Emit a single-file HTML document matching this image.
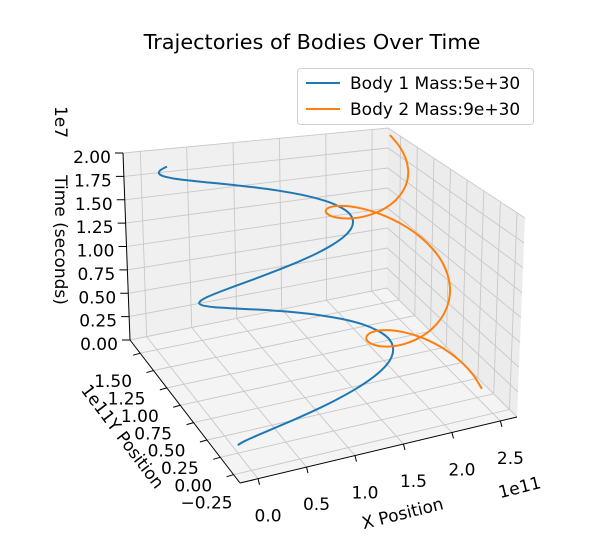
<!DOCTYPE html>
<html><head><meta charset="utf-8"><style>
html,body{margin:0;padding:0;background:#fff;}
svg{display:block;font-family:"DejaVu Sans","Liberation Sans",sans-serif;}
</style></head><body>
<svg id="chart" width="610" height="552" viewBox="0 0 610 552" xmlns="http://www.w3.org/2000/svg">
<rect width="610" height="552" fill="#fff"/>
<text x="312" y="49" text-anchor="middle" font-size="20.8" fill="#000">Trajectories of Bodies Over Time</text>
<g id="panes"></g>
<g id="grid"></g>
<g id="axes"></g>
<g id="series"></g>
<text transform="translate(404,519) rotate(-14)" text-anchor="middle" font-size="17">X Position</text>
<text transform="translate(521,493) rotate(-14)" text-anchor="middle" font-size="17">1e11</text>
<text transform="translate(118,440) rotate(53)" text-anchor="middle" font-size="17">1e11Y Position</text>
<text transform="translate(55,240) rotate(90)" text-anchor="middle" font-size="17">Time (seconds)</text>
<text transform="translate(55,122) rotate(90)" text-anchor="middle" font-size="17">1e7</text>
<g>
<rect x="297.5" y="68.5" width="236" height="56" rx="3" fill="#fff" fill-opacity="0.85" stroke="#d0d0d0"/>
<line x1="306" y1="83" x2="340" y2="83" stroke="#1f77b4" stroke-width="2"/>
<text x="350" y="89" font-size="17">Body 1 Mass:5e+30</text>
<line x1="306" y1="109" x2="340" y2="109" stroke="#ff7f0e" stroke-width="2"/>
<text x="350" y="115" font-size="17">Body 2 Mass:9e+30</text>
</g>
</svg>
<script>
// time in units of 1e7 s, positions in units of 1e11 m
const timeVals=[0,.0736,.1450,.2119,.2724,.3254,.3699,.4054,.4325,.4519,.4649,.4736,.48,.4864,.4951,.5081,.5275,.5546,.5901,.6346,.6876,.7481,.8150,.8864,.96,1.0336,1.1050,1.1719,1.2324,1.2854,1.3299,1.3654,1.3925,1.4119,1.4249,1.4336,1.44,1.4464,1.4551,1.4681,1.4875,1.5146,1.5501,1.5946,1.6476,1.7081,1.7750,1.8464,1.92,1.9936];
const body1X=[.054,.084,.173,.314,.499,.713,.944,1.174,1.389,1.573,1.714,1.803,1.834,1.803,1.714,1.573,1.389,1.174,.944,.713,.499,.314,.173,.084,.054,.084,.173,.314,.499,.713,.944,1.174,1.389,1.573,1.714,1.803,1.834,1.803,1.714,1.573,1.389,1.174,.944,.713,.499,.314,.173,.084,.054,.084];
const body1Y=[.100,.030,-.034,-.084,-.116,-.126,-.111,-.070,-.004,.083,.189,.310,.435,.560,.681,.787,.874,.940,.981,.996,.986,.954,.904,.840,.770,.700,.636,.586,.554,.544,.559,.600,.666,.753,.859,.980,1.105,1.230,1.351,1.457,1.544,1.610,1.651,1.666,1.656,1.624,1.574,1.510,1.440,1.370];
const body2X=[2.614,2.597,2.548,2.469,2.367,2.248,2.120,1.992,1.873,1.771,1.692,1.643,1.626,1.643,1.692,1.771,1.873,1.992,2.120,2.248,2.367,2.469,2.548,2.597,2.614,2.597,2.548,2.469,2.367,2.248,2.120,1.992,1.873,1.771,1.692,1.643,1.626,1.643,1.692,1.771,1.873,1.992,2.120,2.248,2.367,2.469,2.548,2.597,2.614,2.597];
const body2Y=[.100,.218,.331,.432,.515,.578,.618,.634,.627,.599,.554,.498,.435,.372,.316,.271,.243,.236,.252,.292,.355,.438,.539,.652,.770,.888,1.001,1.102,1.185,1.248,1.288,1.304,1.297,1.269,1.224,1.168,1.105,1.042,.986,.941,.913,.906,.922,.962,1.025,1.108,1.209,1.322,1.440,1.558];
const xTicks=[0,0.5,1.0,1.5,2.0,2.5];
const xTickLabels=["0.0","0.5","1.0","1.5","2.0","2.5"];
const yTicks=[-0.25,0,0.25,0.5,0.75,1.0,1.25,1.5];
const yTickLabels=["−0.25","0.00","0.25","0.50","0.75","1.00","1.25","1.50"];
const zTicks=[0,0.25,0.5,0.75,1.0,1.25,1.5,1.75,2.0];
const zTickLabels=["0.00","0.25","0.50","0.75","1.00","1.25","1.50","1.75","2.00"];

const XL=[-0.186,2.671], YL=[-0.37,1.69], ZL=[0,2.0];
const C={p000:[240,483],p100:[517,417],p010:[130,340],p110:[387,288],
         p001:[243,252],p101:[525,218],p011:[123,153],p111:[388,128]};
function L(a,b,t){return [a[0]+(b[0]-a[0])*t,a[1]+(b[1]-a[1])*t];}
function proj(x,y,z){
  const u=(x-XL[0])/(XL[1]-XL[0]), v=(y-YL[0])/(YL[1]-YL[0]), w=(z-ZL[0])/(ZL[1]-ZL[0]);
  const b=L(L(C.p000,C.p100,u),L(C.p010,C.p110,u),v);
  const t=L(L(C.p001,C.p101,u),L(C.p011,C.p111,u),v);
  return L(b,t,w);
}
const NS="http://www.w3.org/2000/svg";
function mk(tag,parent,attrs){const e=document.createElementNS(NS,tag);for(const k in attrs)e.setAttribute(k,attrs[k]);parent.appendChild(e);return e;}
function pts(a){return a.map(p=>p[0].toFixed(1)+","+p[1].toFixed(1)).join(" ");}
const panes=document.getElementById('panes'),grid=document.getElementById('grid'),axes=document.getElementById('axes'),series=document.getElementById('series');
const [x0,x1]=XL,[y0,y1]=YL,[z0,z1]=ZL;
let e;
e=mk('polygon',panes,{points:pts([proj(x0,y0,z0),proj(x1,y0,z0),proj(x1,y1,z0),proj(x0,y1,z0)]),fill:'#f4f4f4'});


e=mk('polygon',panes,{points:pts([proj(x0,y1,z0),proj(x1,y1,z0),proj(x1,y1,z1),proj(x0,y1,z1)]),fill:'#f0f0f0'});


e=mk('polygon',panes,{points:pts([proj(x1,y0,z0),proj(x1,y1,z0),proj(x1,y1,z1),proj(x1,y0,z1)]),fill:'#ececec'});


const gs={stroke:'#c8c8c8','stroke-width':0.9,fill:'none'};
xTicks.forEach(x=>{e=mk('polyline',grid,Object.assign({points:pts([proj(x,y0,z0),proj(x,y1,z0),proj(x,y1,z1)])},gs));

});
yTicks.forEach(y=>{e=mk('polyline',grid,Object.assign({points:pts([proj(x0,y,z0),proj(x1,y,z0),proj(x1,y,z1)])},gs));

});
zTicks.forEach(z=>{e=mk('polyline',grid,Object.assign({points:pts([proj(x0,y1,z),proj(x1,y1,z),proj(x1,y0,z)])},gs));

});
function axisLine(a,b,name){e=mk('line',axes,{x1:a[0],y1:a[1],x2:b[0],y2:b[1],stroke:'#000','stroke-width':1});

}
axisLine(proj(x0,y0,z0),proj(x1,y0,z0),'x-axis-line');
axisLine(proj(x0,y0,z0),proj(x0,y1,z0),'y-axis-line');
axisLine(proj(x0,y1,z0),proj(x0,y1,z1),'z-axis-line');
function tick(p,d,lab,off,name){
  e=mk('line',axes,{x1:p[0],y1:p[1],x2:p[0]+d[0],y2:p[1]+d[1],stroke:'#000','stroke-width':1});
  
  
  e=mk('text',axes,{x:p[0]+off[0],y:p[1]+off[1],'font-size':17,'text-anchor':'middle'});
  e.textContent=lab;
  
  
}
xTicks.forEach((x,i)=>tick(proj(x,y0,z0),[1.5,6],xTickLabels[i],[10,43],'x'));
yTicks.forEach((y,i)=>tick(proj(x0,y,z0),[-7,2],yTickLabels[i],[-27,34],'y'));
zTicks.forEach((z,i)=>tick(proj(x0,y1,z),[-8,0],zTickLabels[i],[-31,10],'z'));
function smooth(P){let d="M"+P[0][0].toFixed(1)+","+P[0][1].toFixed(1);
  for(let i=0;i<P.length-1;i++){const p0=P[Math.max(0,i-1)],p1=P[i],p2=P[i+1],p3=P[Math.min(P.length-1,i+2)];
    const c1=[p1[0]+(p2[0]-p0[0])/6,p1[1]+(p2[1]-p0[1])/6],c2=[p2[0]-(p3[0]-p1[0])/6,p2[1]-(p3[1]-p1[1])/6];
    d+=" C"+c1[0].toFixed(1)+","+c1[1].toFixed(1)+" "+c2[0].toFixed(1)+","+c2[1].toFixed(1)+" "+p2[0].toFixed(1)+","+p2[1].toFixed(1);}
  return d;}
const b1=timeVals.map((t,i)=>proj(body1X[i],body1Y[i],t));
const b2=timeVals.map((t,i)=>proj(body2X[i],body2Y[i],t));
e=mk('path',series,{d:smooth(b1),stroke:'#1f77b4','stroke-width':2,fill:'none'});


e=mk('path',series,{d:smooth(b2),stroke:'#ff7f0e','stroke-width':2,fill:'none'});


</script>
</body></html>
